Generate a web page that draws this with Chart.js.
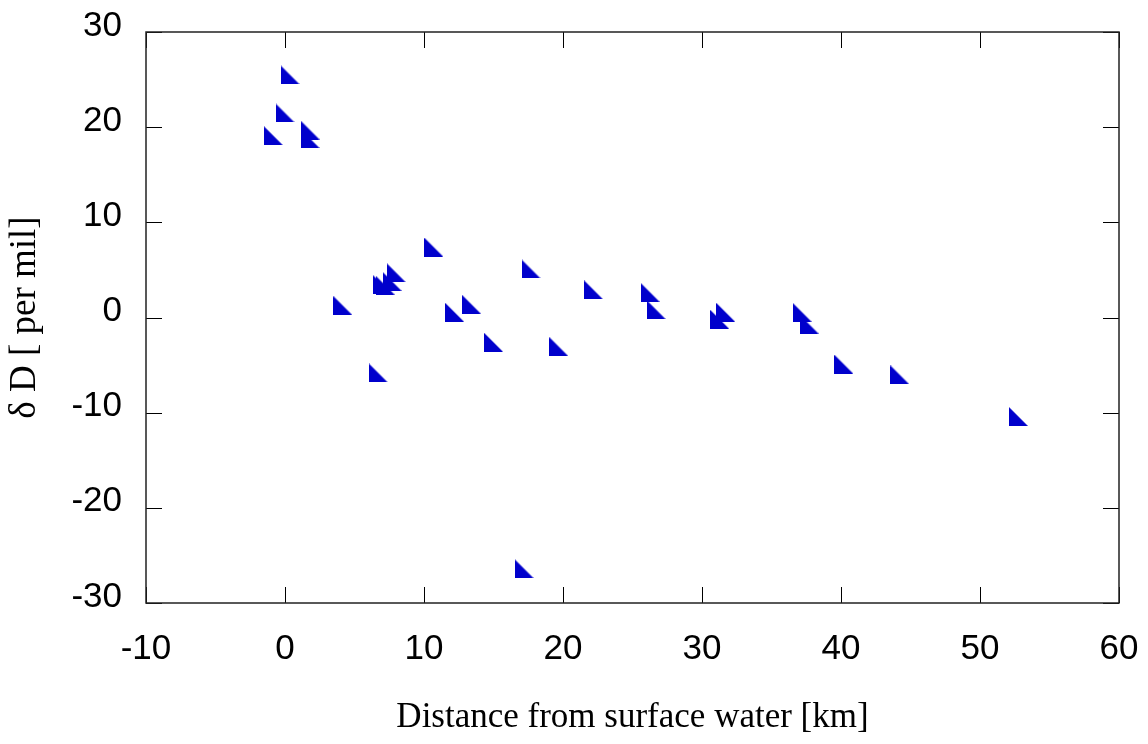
<!DOCTYPE html>
<html>
<head>
<meta charset="utf-8">
<script src="https://cdn.jsdelivr.net/npm/chart.js@4.4.1/dist/chart.umd.min.js"></script>
<style>
  html, body { margin: 0; padding: 0; background: #fff; }
  canvas { display: block; }
</style>
</head>
<body>
<canvas id="deltaChart" width="1148" height="744"></canvas>
<script>
// distance from surface water [km] and delta D [per mil]
const distKm = [0.36, 0.0, -0.84, 1.8, 1.8, 6.98, 7.2, 7.7, 8.0, 4.17, 10.7, 17.7,
                12.2, 13.4, 15.0, 19.7, 6.71, 17.2, 22.2, 26.26, 26.7, 31.27, 31.7,
                37.2, 37.7, 40.2, 44.24, 52.76];
const deltaD = [25.5, 21.5, 19.1, 19.7, 18.8, 3.5, 3.4, 3.8, 4.7, 1.24, 7.4, 5.1,
                0.55, 1.4, -2.6, -3.07, -5.83, -26.4, 2.9, 2.65, 0.82, -0.19, 0.55,
                0.55, -0.7, -4.9, -6.04, -10.4];

const xTicks = [-10, 0, 10, 20, 30, 40, 50, 60];
const yTicks = [-30, -20, -10, 0, 10, 20, 30];

// right-triangle marker (corner at lower left)
function triangleMarker(size, color) {
    const c = document.createElement('canvas');
    c.width = size; c.height = size;
    const g = c.getContext('2d');
    g.fillStyle = color;
    g.beginPath();
    g.moveTo(0, 0);
    g.lineTo(0, size);
    g.lineTo(size, size);
    g.closePath();
    g.fill();
    return c;
}

// box frame with inward ticks on all four sides
const frameTicks = {
    id: 'frameTicks',
    beforeDatasetsDraw(chart) {
        const { ctx, chartArea: a, scales: { x, y } } = chart;
        const len = 16;
        ctx.save();
        ctx.strokeStyle = '#000';
        ctx.lineWidth = 1;
        ctx.beginPath();
        x.ticks.forEach(t => {
            const px = Math.round(x.getPixelForValue(t.value)) + 0.5;
            ctx.moveTo(px, a.bottom); ctx.lineTo(px, a.bottom - len);
            ctx.moveTo(px, a.top); ctx.lineTo(px, a.top + len);
        });
        y.ticks.forEach(t => {
            const py = Math.round(y.getPixelForValue(t.value)) + 0.5;
            ctx.moveTo(a.left, py); ctx.lineTo(a.left + len, py);
            ctx.moveTo(a.right, py); ctx.lineTo(a.right - len, py);
        });
        ctx.stroke();
        ctx.lineWidth = 1.5;
        ctx.strokeStyle = '#222';
        ctx.strokeRect(a.left, a.top, a.right - a.left, a.bottom - a.top);
        ctx.restore();
    }
};

const points = distKm.map((d, i) => ({ x: d, y: deltaD[i] }));

new Chart(document.getElementById('deltaChart'), {
    type: 'scatter',
    data: {
        datasets: [{
            data: points,
            pointStyle: triangleMarker(19, '#0000cc'),
            pointRadius: 9,
            pointHoverRadius: 9
        }]
    },
    options: {
        responsive: false,
        animation: false,
        layout: { padding: { left: 0, right: 29, top: 32, bottom: 0 } },
        plugins: { legend: { display: false }, tooltip: { enabled: false } },
        scales: {
            x: {
                type: 'linear',
                min: -10, max: 60,
                afterBuildTicks: s => { s.ticks = xTicks.map(v => ({ value: v })); },
                afterFit: s => { s.height = 141; s.paddingLeft = 0; s.paddingRight = 0; },
                grid: { display: false },
                border: { display: false },
                ticks: {
                    padding: 17,
                    color: '#000',
                    font: { family: 'Liberation Sans, Arial, sans-serif', size: 35 }
                },
                title: {
                    display: true,
                    text: 'Distance from surface water [km]',
                    color: '#000',
                    padding: { top: 0, bottom: 5 },
                    font: { family: 'Liberation Serif, Times New Roman, serif', size: 35 }
                }
            },
            y: {
                type: 'linear',
                min: -30, max: 30,
                afterBuildTicks: s => { s.ticks = yTicks.map(v => ({ value: v })); },
                afterFit: s => { s.width = 146; s.paddingTop = 0; s.paddingBottom = 0; },
                grid: { display: false },
                border: { display: false },
                ticks: {
                    padding: 16,
                    labelOffset: -6,
                    color: '#000',
                    font: { family: 'Liberation Sans, Arial, sans-serif', size: 35 }
                },
                title: {
                    display: true,
                    text: 'δ D [ per mil]',
                    color: '#000',
                    padding: { top: 3, bottom: 0 },
                    font: { family: 'Liberation Serif, Times New Roman, serif', size: 37 }
                }
            }
        }
    },
    plugins: [frameTicks]
});
</script>
</body>
</html>
